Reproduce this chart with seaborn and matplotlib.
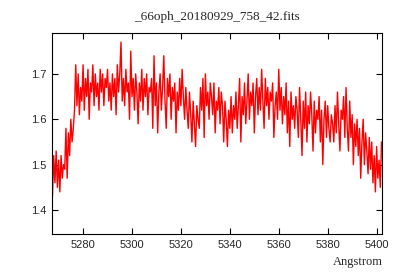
import numpy as np
import pandas as pd
import matplotlib
matplotlib.use('Agg')
import matplotlib.pyplot as plt
import seaborn as sns

# spectrum, 0.5 A sampling
wave_start = 5267.5
wave_step = 0.5
flux = [
    1.43, 1.52, 1.46, 1.53, 1.45, 1.51, 1.44, 1.52, 1.47, 1.50,
    1.49, 1.58, 1.47, 1.57, 1.52, 1.60, 1.55, 1.58, 1.62, 1.72,
    1.63, 1.70, 1.61, 1.67, 1.64, 1.72, 1.62, 1.69, 1.65, 1.71,
    1.60, 1.68, 1.66, 1.72, 1.63, 1.70, 1.65, 1.68, 1.62, 1.71,
    1.66, 1.70, 1.63, 1.69, 1.67, 1.71, 1.64, 1.68, 1.62, 1.70,
    1.65, 1.69, 1.61, 1.72, 1.66, 1.70, 1.77, 1.64, 1.69, 1.63,
    1.71, 1.66, 1.68, 1.60, 1.75, 1.65, 1.69, 1.62, 1.70, 1.66,
    1.59, 1.68, 1.64, 1.71, 1.62, 1.69, 1.65, 1.70, 1.61, 1.67,
    1.66, 1.69, 1.58, 1.74, 1.63, 1.68, 1.57, 1.66, 1.70, 1.62,
    1.67, 1.74, 1.64, 1.58, 1.69, 1.65, 1.70, 1.60, 1.67, 1.64,
    1.68, 1.57, 1.66, 1.62, 1.69, 1.63, 1.71, 1.65, 1.60, 1.67,
    1.62, 1.58, 1.66, 1.61, 1.55, 1.64, 1.59, 1.54, 1.63, 1.60,
    1.58, 1.67, 1.62, 1.69, 1.56, 1.70, 1.63, 1.66, 1.60, 1.68,
    1.65, 1.61, 1.68, 1.57, 1.64, 1.62, 1.67, 1.59, 1.66, 1.63,
    1.55, 1.64, 1.60, 1.54, 1.62, 1.58, 1.65, 1.57, 1.63, 1.60,
    1.66, 1.58, 1.63, 1.69, 1.55, 1.65, 1.61, 1.68, 1.59, 1.64,
    1.70, 1.60, 1.66, 1.63, 1.68, 1.57, 1.65, 1.69, 1.61, 1.67,
    1.62, 1.71, 1.64, 1.58, 1.69, 1.63, 1.67, 1.60, 1.66, 1.64,
    1.68, 1.56, 1.63, 1.66, 1.60, 1.71, 1.62, 1.67, 1.59, 1.65,
    1.61, 1.68, 1.57, 1.64, 1.54, 1.66, 1.60, 1.63, 1.58, 1.65,
    1.62, 1.56, 1.67, 1.60, 1.52, 1.64, 1.58, 1.66, 1.55, 1.63,
    1.59, 1.66, 1.61, 1.53, 1.64, 1.57, 1.62, 1.60, 1.65, 1.55,
    1.62, 1.50, 1.60, 1.64, 1.56, 1.63, 1.58, 1.55, 1.61, 1.59,
    1.55, 1.63, 1.57, 1.66, 1.59, 1.53, 1.62, 1.60, 1.65, 1.56,
    1.67, 1.58, 1.53, 1.64, 1.56, 1.61, 1.50, 1.59, 1.54, 1.60,
    1.52, 1.58, 1.47, 1.55, 1.60, 1.50, 1.57, 1.53, 1.48, 1.56,
    1.49, 1.55, 1.46, 1.52, 1.44, 1.54, 1.47, 1.51, 1.45, 1.55,
]
x_ticks = [5280, 5300, 5320, 5340, 5360, 5380, 5400]
y_ticks = [1.4, 1.5, 1.6, 1.7]
title = '_66oph_20180929_758_42.fits'
xlabel = 'Angstrom'

sns.set_style('ticks')
plt.rcParams['font.family'] = ['Liberation Sans', 'DejaVu Sans']
plt.rcParams['xtick.direction'] = 'in'
plt.rcParams['ytick.direction'] = 'in'
plt.rcParams['xtick.top'] = True
plt.rcParams['ytick.right'] = True

df = pd.DataFrame({'wave': wave_start + wave_step * np.arange(len(flux)),
                   'flux': flux})

fig = plt.figure(figsize=(4, 2.8), dpi=100)
ax = fig.add_axes([0.13, 0.164, 0.825, 0.718])
sns.lineplot(data=df, x='wave', y='flux', color='red', linewidth=1.0, ax=ax)

ax.set_xlim(5267.3, 5402.2)
ax.set_ylim(1.347, 1.79)
ax.set_xticks(x_ticks)
ax.set_yticks(y_ticks)
ax.tick_params(labelsize=8, length=4, width=0.8, color='black', pad=4)
for s in ax.spines.values():
    s.set_linewidth(0.8)
    s.set_color('black')

ax.set_xlabel('')
ax.set_ylabel('')
fig.text(0.5425, 0.94, title, ha='center', va='center',
         fontsize=9.5, family='Liberation Serif')
fig.text(0.957, 0.065, xlabel, ha='right', va='center',
         fontsize=9, family='Liberation Serif')

fig.savefig('out.png', dpi=100)
